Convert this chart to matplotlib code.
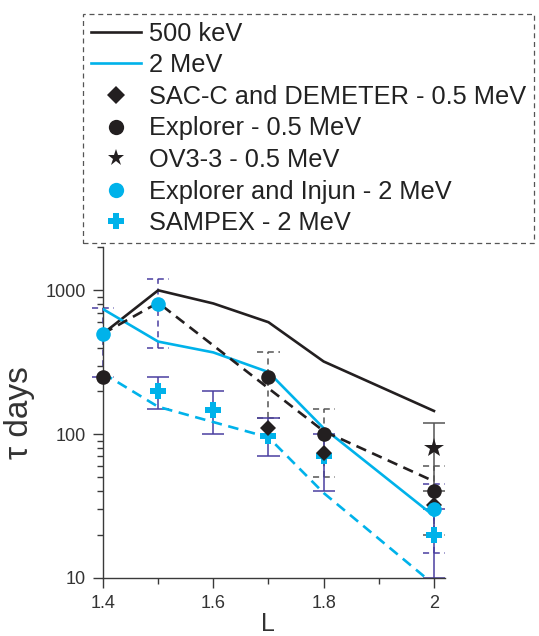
import matplotlib
matplotlib.use("Agg")
import matplotlib.pyplot as plt
from matplotlib.lines import Line2D
from matplotlib.ticker import FixedLocator, NullFormatter

plt.rcParams['font.family'] = ['Liberation Sans', 'DejaVu Sans']

# ── Data ──────────────────────────────────────────────────────────────────────
# model curves
L_model     = [1.4, 1.5, 1.6, 1.7, 1.8, 2.0]
tau_500keV  = [500, 1000, 810, 600, 320, 145]
tau_2MeV    = [740, 440, 370, 270, 110, 27]

L_500_dash   = [1.4, 1.5, 1.8, 2.0]
tau_500_dash = [500, 820, 105, 47]
L_2_dash     = [1.4, 1.5, 1.7, 1.8, 2.0]
tau_2_dash   = [265, 155, 95, 39, 9]

# observations
L_sacc   = [1.7, 1.8, 2.0]
tau_sacc = [110, 74, 32]

L_expl    = [1.4, 1.7, 1.8, 2.0]
tau_expl  = [250, 250, 100, 40]
L_expl_err  = [1.7, 1.8, 2.0]
lo_expl     = [130, 50, 20]
hi_expl     = [370, 150, 60]

L_ov3   = [2.0]
tau_ov3 = [80]
lo_ov3  = [40]
hi_ov3  = [120]

L_inj   = [1.4, 1.5, 2.0]
tau_inj = [500, 800, 30]
lo_inj  = [250, 400, 15]
hi_inj  = [750, 1200, 45]

L_samp   = [1.5, 1.6, 1.7, 1.8, 2.0]
tau_samp = [200, 148, 97, 70, 20]
lo_samp  = [150, 100, 70, 40, 10]
hi_samp  = [250, 200, 130, 100, 30]

# ── Style ─────────────────────────────────────────────────────────────────────
BLACK  = "#231f20"
CYAN   = "#00b2ea"
PURPLE = "#4a3fa0"
GREY   = "#555555"
CAP    = 0.02   # half cap width in L units


def draw_err(ax, x, lo, hi, color, ls, lw=1.1, z=2):
    ax.vlines(x, lo, hi, colors=color, linestyles=ls, linewidth=lw, zorder=z, clip_on=False)
    for xi, a, b in zip(x, lo, hi):
        ax.hlines([a, b], xi - CAP, xi + CAP, colors=color, linestyles=ls,
                  linewidth=lw, zorder=z, clip_on=False)


fig = plt.figure(figsize=(5.39, 6.36), dpi=100)
ax = fig.add_axes([103 / 539, 1 - 578 / 636, (445 - 103) / 539, (578 - 247) / 636])

dash = (0, (4, 2.5))
ax.plot(L_model, tau_500keV, color=BLACK, lw=1.9, zorder=3)
ax.plot(L_model, tau_2MeV, color=CYAN, lw=1.9, zorder=3)
ax.plot(L_500_dash, tau_500_dash, color=BLACK, lw=1.9, ls=dash, zorder=3)
ax.plot(L_2_dash, tau_2_dash, color=CYAN, lw=1.9, ls=dash, zorder=3)

# error bars
draw_err(ax, L_expl_err, lo_expl, hi_expl, GREY, (0, (4, 3)))
draw_err(ax, L_inj, lo_inj, hi_inj, PURPLE, (0, (4, 3)))
draw_err(ax, L_samp, lo_samp, hi_samp, PURPLE, "solid")
draw_err(ax, L_ov3, lo_ov3, hi_ov3, GREY, "solid")

# markers
ax.plot(L_samp, tau_samp, ls="none", marker="P", ms=11, color=CYAN, mew=0, zorder=5, clip_on=False)
ax.plot(L_sacc, tau_sacc, ls="none", marker="D", ms=8.5, color=BLACK, mew=0, zorder=6, clip_on=False)
ax.plot(L_expl, tau_expl, ls="none", marker="o", ms=10.5, color=BLACK, mew=0, zorder=6, clip_on=False)
ax.plot(L_inj, tau_inj, ls="none", marker="o", ms=10.5, color=CYAN, mew=0, zorder=7, clip_on=False)
ax.plot(L_ov3, tau_ov3, ls="none", marker="*", ms=15, color=BLACK, mew=0, zorder=7, clip_on=False)

# axes
ax.set_yscale("log")
ax.set_ylim(10, 2000)
ax.set_xlim(1.4, 2.02)
ax.set_yticks([10, 100, 1000])
ax.set_yticklabels(["10", "100", "1000"])
ax.yaxis.set_minor_formatter(NullFormatter())
ax.set_xticks([1.4, 1.6, 1.8, 2.0])
ax.set_xticklabels(["1.4", "1.6", "1.8", "2"])
ax.xaxis.set_minor_locator(FixedLocator([1.5, 1.7, 1.9]))

for side in ["top", "right"]:
    ax.spines[side].set_visible(False)
for side in ["left", "bottom"]:
    ax.spines[side].set_color("#3a3a3a")
    ax.spines[side].set_linewidth(1.0)
ax.tick_params(which="major", direction="out", length=7.5, width=1.0, color="#3a3a3a",
               labelsize=13, labelcolor="#333333", pad=5)
ax.tick_params(which="minor", direction="out", length=4.5, width=1.0, color="#3a3a3a")

ax.set_xlabel("L", fontsize=18, color="#333333")
ax.xaxis.set_label_coords(0.482, -0.103)
ax.set_ylabel("τ days", fontsize=24, color="#333333")
ax.yaxis.set_label_coords(-0.20, 0.50)

# legend
handles = [
    Line2D([], [], color=BLACK, lw=1.9),
    Line2D([], [], color=CYAN, lw=1.9),
    Line2D([], [], ls="none", marker="D", ms=9, color=BLACK, mew=0),
    Line2D([], [], ls="none", marker="o", ms=11, color=BLACK, mew=0),
    Line2D([], [], ls="none", marker="*", ms=12.5, color=BLACK, mew=0),
    Line2D([], [], ls="none", marker="o", ms=11, color=CYAN, mew=0),
    Line2D([], [], ls="none", marker="P", ms=11, color=CYAN, mew=0),
]
labels = ["500 keV", "2 MeV", "SAC-C and DEMETER - 0.5 MeV", "Explorer - 0.5 MeV",
          "OV3-3 - 0.5 MeV", "Explorer and Injun - 2 MeV", "SAMPEX - 2 MeV"]
leg = fig.legend(handles, labels, loc="upper left", bbox_to_anchor=(83 / 539, 1 - 14 / 636),
                 borderaxespad=0, fontsize=18.3, handlelength=2.0, handletextpad=0.3,
                 labelspacing=0.3, borderpad=0.3, fancybox=False, framealpha=1,
                 labelcolor="#222222")
leg.get_frame().set_edgecolor("#555555")
leg.get_frame().set_linestyle((0, (4, 3)))
leg.get_frame().set_linewidth(0.9)

fig.savefig("out.png", dpi=100)
